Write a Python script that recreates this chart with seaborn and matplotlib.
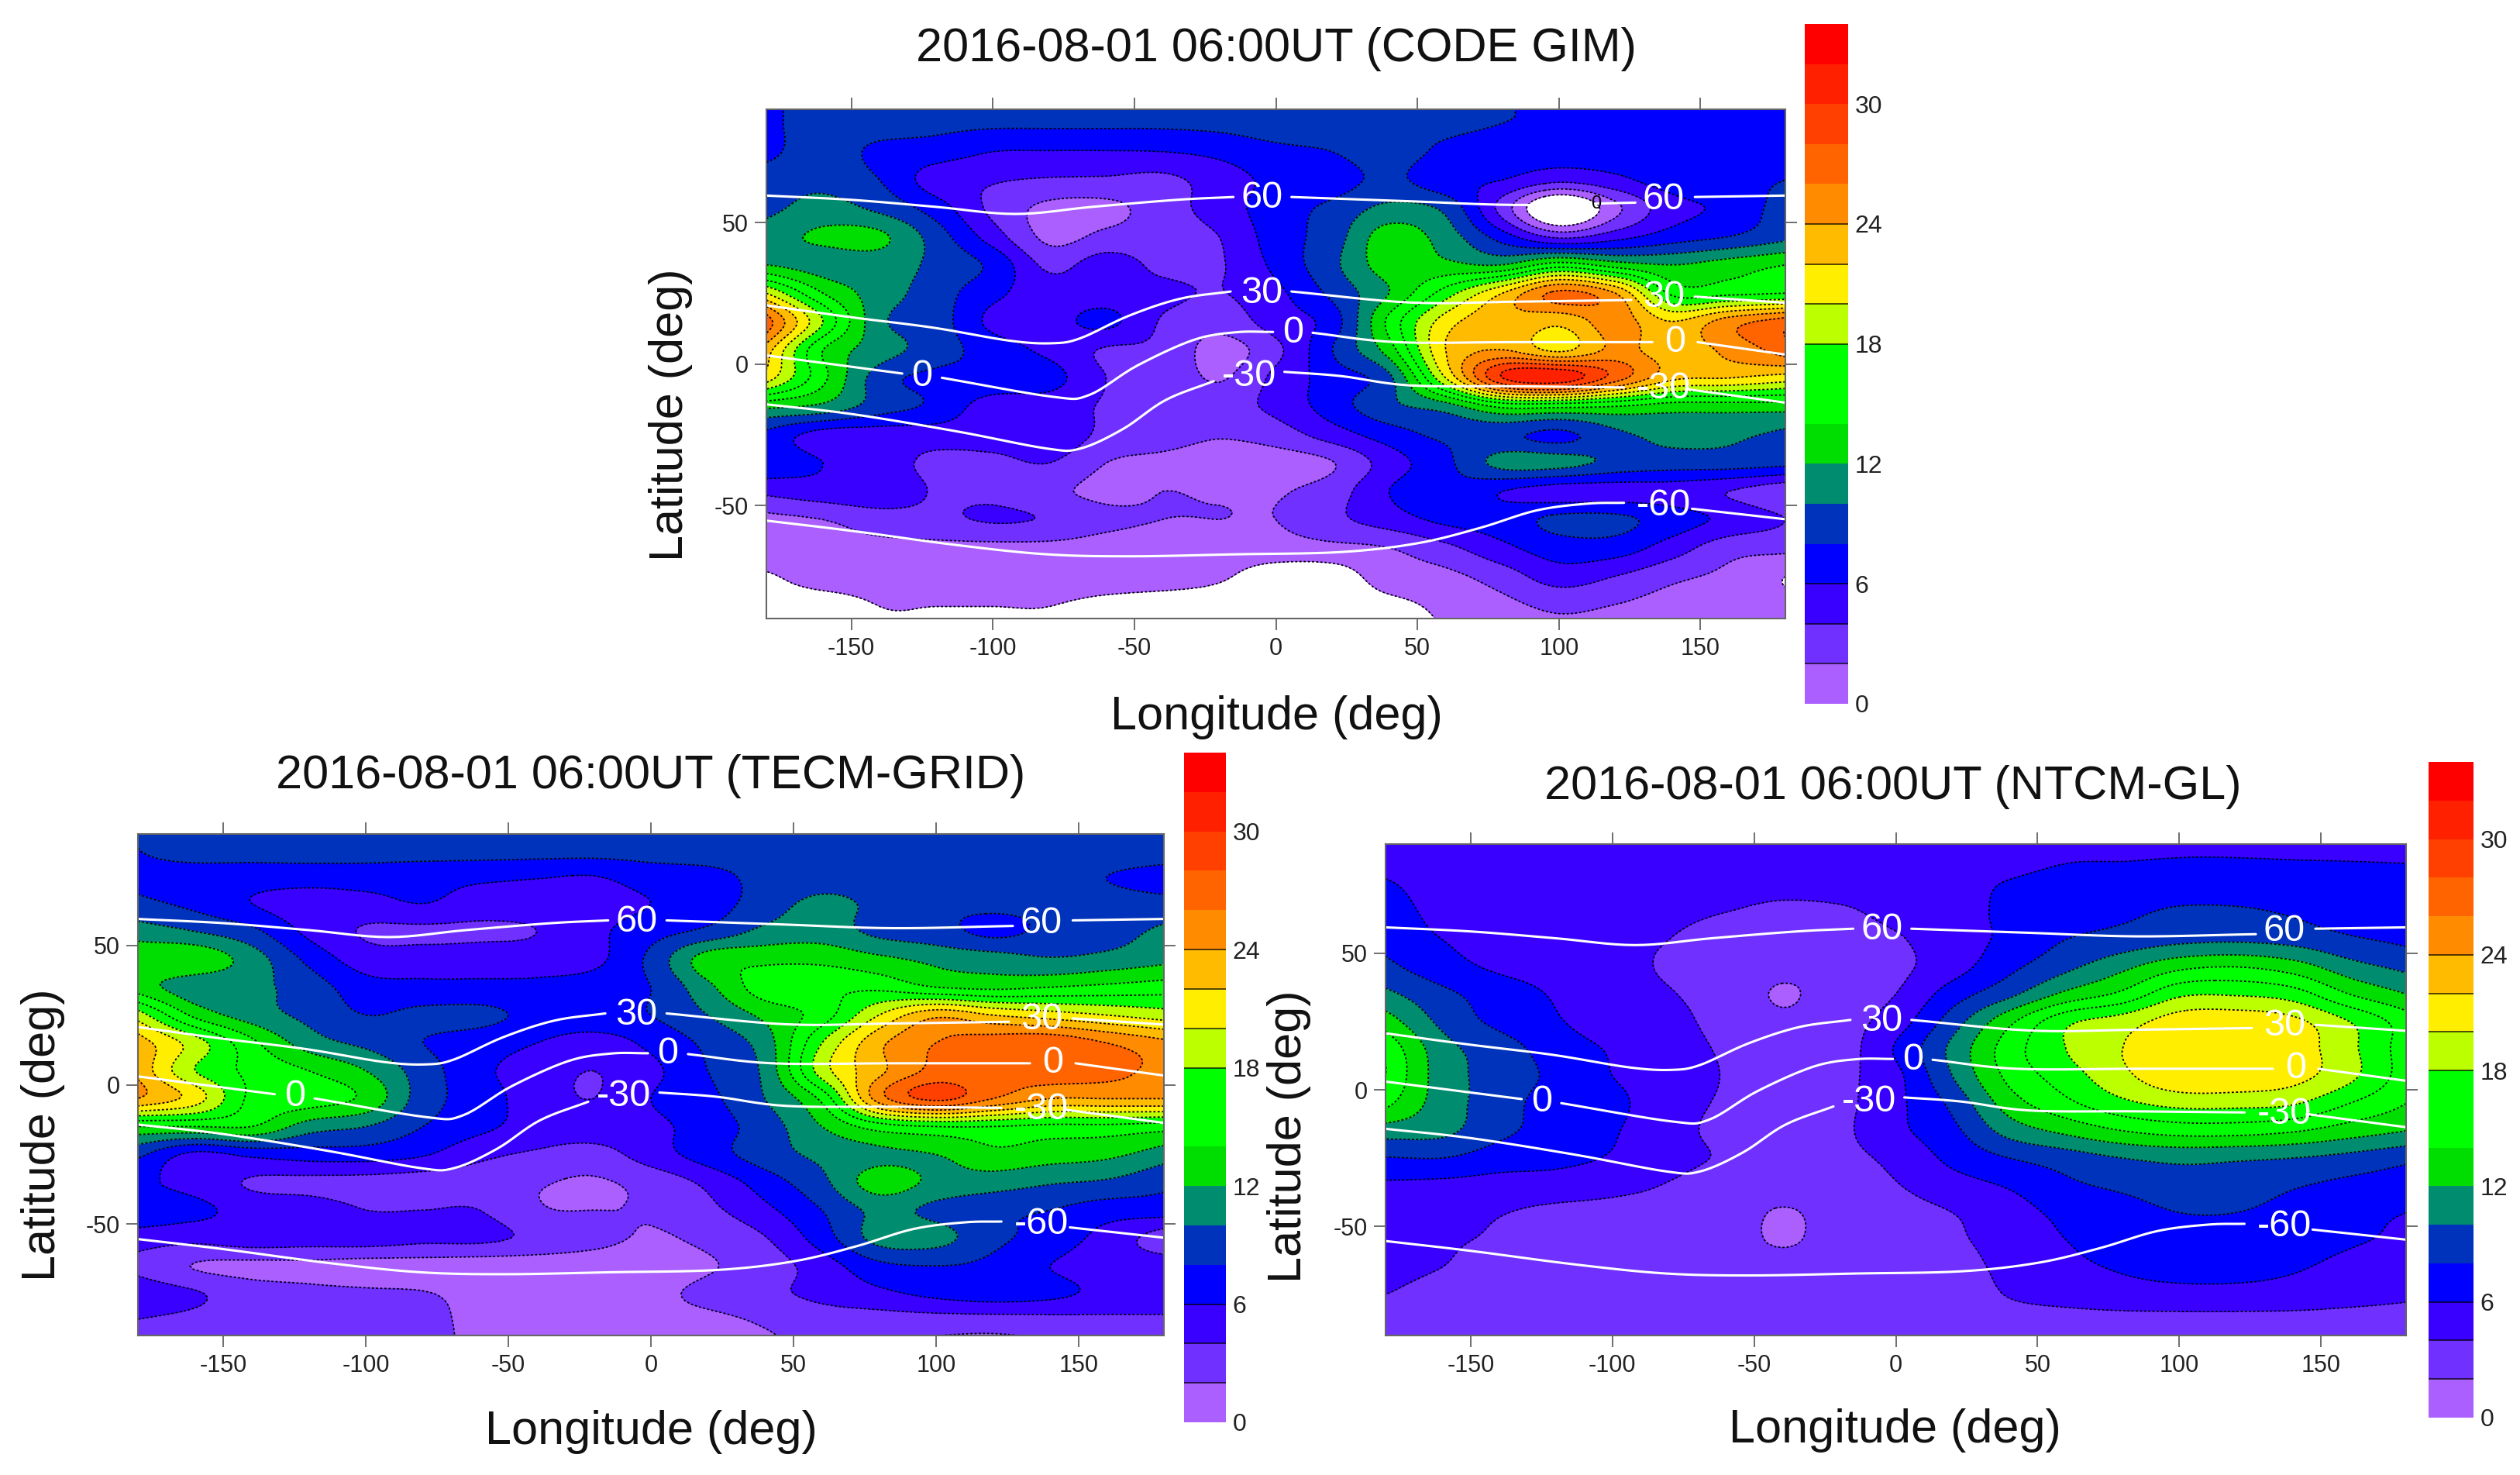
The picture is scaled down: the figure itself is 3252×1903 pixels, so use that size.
import matplotlib
matplotlib.use('Agg')
import matplotlib.pyplot as plt
import numpy as np
import seaborn as sns
from matplotlib.colors import BoundaryNorm, ListedColormap

W, H = 3252, 1903

# grid of the maps
lons = [-180, -160, -140, -120, -100, -80, -60, -40, -20, 0, 20, 40, 60, 80, 100, 120, 140, 160, 180]
lats = [85, 75, 65, 55, 45, 35, 25, 15, 5, -5, -15, -25, -35, -45, -55, -65, -75, -85]

# TEC, one row per latitude
code_gim = [
    [7.5, 9, 9, 8.5, 8.3, 8.3, 8.3, 8.3, 8.5, 9, 9, 9, 8.5, 8, 7.8, 7.8, 7.8, 7.8, 7.8],
    [7.5, 9, 7.5, 7, 6, 5.9, 5.9, 6, 6.5, 7.5, 8, 9, 7.5, 7, 7, 7, 7, 7, 7.5],
    [9, 9.5, 8, 5, 4.2, 3.8, 3.7, 3.5, 5, 6.5, 7, 8.5, 6.5, 6, 4.5, 5.5, 7, 7.5, 8],
    [9.5, 10.7, 9.5, 7, 3.5, 1.5, 1.5, 3, 5, 7, 8.5, 10.5, 9.5, 3.2, -3, 1.5, 5.2, 6.5, 9],
    [11, 12.4, 12.4, 9, 5, 1.5, 2.5, 3, 4, 7, 9, 13, 11, 7, 3.5, 5.2, 7, 8, 9.5],
    [12, 11, 11, 9.5, 7.5, 3.5, 5, 3.5, 3.8, 6.5, 9.5, 13, 12.5, 12, 15, 13, 12, 13, 14],
    [20, 14, 11, 9, 6.5, 5, 5, 4.5, 3.9, 5.5, 8.5, 12, 17, 22, 26.5, 24, 15.5, 15.5, 16],
    [27, 18, 10.5, 9, 5.5, 5.3, 6.5, 3.8, 2.8, 5, 7, 14.5, 21, 23.5, 22.5, 25, 22, 25, 27],
    [23, 14, 11, 9, 7, 5.5, 3.8, 3.6, 1.2, 3.5, 8, 13, 22, 24, 21.5, 24.5, 23, 24.5, 27],
    [21, 14.5, 9, 7.5, 7.5, 6.8, 4, 3.5, 1.8, 4.5, 7, 9.5, 20, 30, 31.5, 27, 22.5, 22, 21],
    [12.5, 11.5, 9, 7.5, 5, 5, 3.8, 3.5, 3.3, 4.5, 7, 9.5, 11, 14.5, 14.5, 14, 13, 13, 13],
    [7.5, 5.2, 5, 5, 5, 5.5, 3.5, 3, 2.2, 3, 5, 7, 8.5, 8.5, 7.5, 9.5, 10.7, 10.5, 9.5],
    [7.5, 6, 5, 3.5, 3.5, 4, 2, 1.5, 1, 1, 1.9, 5, 7.5, 10.7, 10.7, 9.5, 9, 9, 8.5],
    [4.5, 5.2, 5.4, 3.8, 3.5, 2.5, 1.5, 2, 1.8, 1.8, 3, 6, 7.5, 6, 5, 5, 5, 4, 2.5],
    [1.5, 2, 3, 3.5, 4.2, 3.8, 2.5, 2, 2, 2, 3.5, 5, 6.5, 7, 8.5, 8.5, 7, 5.5, 4],
    [1.9, 1.5, 1.5, 1.5, 1.5, 1.5, 1.2, 1.2, 1.2, 1.2, 1.5, 2, 3.5, 5.5, 7, 7, 5, 2.8, 2.5],
    [-0.3, 1, 1, 1, 1, 1, 1, 1, 0.3, -1, -1, 1, 1.5, 3, 5, 4, 2.5, 1.5, 0],
    [-1, -1, 0.05, 0.05, 0.05, 0.05, -0.5, -1, -1, -1, -1, -0.5, 0.5, 1.5, 2.5, 2, 1.2, 0.8, 0.5],
]
tecm_grid = [
    [8, 9, 9, 9, 9, 9, 9, 9, 9, 9, 9, 9, 9, 9, 9, 9, 9, 9, 9],
    [7.5, 7.2, 7, 7, 7, 6.8, 6.5, 6.2, 6, 7, 7.5, 8.5, 9, 9, 9, 9, 8.5, 8, 7.5],
    [8.5, 7.5, 6, 5, 5.3, 6, 5, 5, 5.2, 6, 7, 9, 10.5, 9.5, 8.5, 8.5, 8.5, 8.5, 8.5],
    [11, 10, 8.5, 5.5, 3.8, 3.6, 3.7, 4, 5.5, 7.2, 8.5, 10.5, 11, 9.5, 8.8, 7.5, 8.5, 9, 10.5],
    [13.5, 13.5, 11, 7.5, 5, 5, 5, 5, 5.5, 8.5, 13, 13.5, 13.5, 12.5, 11.5, 11, 10.2, 10.7, 11.5],
    [13, 10.8, 10.5, 9, 6.8, 6.5, 6.5, 6.5, 7, 8, 11.5, 15, 15.5, 15.5, 14, 13.5, 14, 14.5, 15],
    [19, 13.5, 11, 9.5, 8, 8.5, 8.5, 7.5, 7.5, 8, 10, 12.5, 15, 20, 23.5, 22, 21, 20, 19],
    [23, 19, 14.5, 11, 9.5, 8, 7, 6, 5, 6.5, 8.5, 11, 18, 23.5, 26, 27, 27.5, 26, 24.5],
    [23.5, 18, 15.5, 14, 12, 9, 6.5, 5, 4, 5.5, 8, 10.5, 19, 23.5, 26.5, 26, 27, 26.5, 25.5],
    [24, 21, 15.5, 15, 13.5, 9, 7, 5, 4, 6, 7.5, 10, 14.5, 25, 28.5, 26, 24, 24, 24],
    [14, 14, 14, 11, 10, 8, 6.5, 5.2, 5, 5.5, 7, 9, 12, 15, 16, 16, 15.5, 15.5, 15],
    [8.5, 5.5, 6.5, 7, 7, 6.2, 4.5, 3.7, 3.2, 5, 7, 9, 10.5, 11.5, 12, 13.5, 13, 12.5, 11],
    [6.5, 5.2, 3.8, 3.5, 3.3, 3, 3, 2.2, 1.8, 2.7, 4.5, 7, 9.5, 13, 11.5, 11, 10.2, 9.7, 8.5],
    [7.5, 6.5, 5.3, 5, 4, 4, 4, 2.2, 2, 2.2, 3.5, 5.5, 8, 10.5, 9.5, 8.5, 8, 7, 7],
    [5, 4.6, 5.2, 5, 5, 4.5, 4.5, 3.5, 2.6, 1.8, 2.5, 3.9, 7, 10.7, 10.7, 8.5, 7.2, 5.2, 3],
    [3.5, 1.9, 1.5, 1.5, 1.2, 1.2, 1, 1, 1, 1, 1.8, 3, 5, 7.5, 8, 7.5, 6, 5, 5],
    [5.2, 4.2, 3, 2.5, 2.3, 2.1, 1.5, 1, 1, 1.5, 2.5, 3.5, 4.5, 5.5, 6.5, 7, 6.5, 5.5, 5.5],
    [3.9, 3.5, 3, 3, 3, 2.6, 1.5, 1.5, 1.5, 1.5, 1.5, 2.2, 3, 3, 3, 3, 3.2, 3.5, 3.5],
]
ntcm_gl = [
    [5, 5, 5, 5, 5, 5, 5, 5, 5, 5, 5, 5, 5.8, 5.9, 6, 6, 5.95, 5.9, 5.8],
    [6.3, 5, 4.8, 4.8, 4.8, 4.8, 4.7, 4.5, 4.7, 4.9, 5.2, 6.2, 7, 7, 7, 7, 7, 7, 7],
    [7.2, 5.3, 4.9, 4.7, 4.5, 4.4, 4, 3.6, 3.7, 4.5, 5, 6.5, 7, 7.6, 8.3, 8.3, 7.8, 7, 6.6],
    [7.5, 6, 5.2, 4.7, 4.3, 4, 3.2, 3, 3, 3.8, 5, 6.5, 8, 8.8, 9.5, 9.7, 9.3, 8.3, 7.6],
    [8.5, 6.8, 5.7, 5.2, 4.5, 3.8, 3, 2.5, 2.5, 3.5, 5.2, 7.5, 9.5, 11.5, 13.5, 14, 13, 10.8, 9.5],
    [10.5, 8.5, 7, 5.8, 4.7, 4.1, 3.3, 1.8, 3, 4, 7, 9.5, 12.5, 14.5, 17.6, 17.8, 17, 14, 12],
    [13, 9.5, 7.5, 6.2, 5, 4.4, 3.5, 2.4, 3.2, 5, 9, 13.5, 17.5, 19, 21, 21.2, 20.5, 18, 15],
    [15.5, 10.8, 9, 7, 5.8, 4.7, 3.8, 3.2, 3.1, 6.2, 10.5, 15, 18, 20, 21.5, 21.5, 21, 18.5, 15],
    [16, 11, 9.3, 7.5, 6, 5, 3.9, 3.2, 3.5, 5.5, 10, 14.5, 17, 19.5, 21.5, 21.5, 20.7, 18.5, 15],
    [14.5, 11, 9, 7, 6.5, 4.7, 3.8, 3.2, 3.5, 5.5, 8.5, 13, 15.5, 17.5, 18.6, 18.6, 18.2, 16, 14],
    [11, 10.5, 8.5, 7.2, 6.2, 4.6, 3.6, 3.2, 3.6, 5.5, 7.5, 10.8, 12.5, 14, 14.8, 14.8, 14.2, 13, 12],
    [7.9, 8, 7, 6.6, 5.8, 4.6, 3.8, 3.2, 3.5, 4.5, 6.5, 8, 9, 10, 10.5, 10.3, 10, 9.4, 8.5],
    [5.7, 5.5, 5.2, 5, 4.5, 3.9, 3.2, 3, 3.2, 3.9, 5.2, 6.2, 7.6, 8.4, 9.2, 9.1, 8.2, 7.5, 7],
    [5, 4.7, 4.1, 3.6, 3.5, 3.4, 3.1, 1.8, 2.9, 3.3, 4, 5.2, 6.5, 7.2, 8, 8, 7.3, 6.5, 6],
    [4.5, 4.2, 3.8, 3.3, 3.2, 3.1, 3.1, 1.7, 3, 3.1, 3.7, 4.8, 6, 6.8, 7.2, 7.2, 6.8, 6.2, 5.7],
    [4.4, 4, 3.5, 3.2, 3, 3, 3, 3, 3, 3, 3.3, 4.5, 5.5, 6.2, 6.6, 6.6, 6.2, 5.5, 5.1],
    [4, 3.5, 3.2, 3, 3, 3, 3, 3, 3, 3, 3, 4.1, 4.7, 5.2, 5.4, 5.4, 5.2, 4.7, 4.3],
    [3.2, 3.2, 3.2, 3.2, 3.2, 3, 3, 3, 3, 3, 3, 3.2, 3.2, 3.2, 3.2, 3.2, 3.2, 3.2, 3.2],
]

# magnetic latitude lines, pieces between the labels (lon, lat)
mag_lines = [
    [[(-180, 59.5), (-150, 58), (-120, 55.5), (-92, 53), (-65, 55.5), (-35, 58), (-15, 59)],
     [(5.5, 59), (47, 57.5), (85, 56.2), (127, 57)],
     [(148, 59), (180, 59.5)]],
    [[(-180, 20.7), (-150, 16.5), (-121, 12.8), (-94, 8.2), (-79, 7.3), (-69, 9.1), (-52, 17), (-34, 23), (-16, 25.6)],
     [(5.5, 25.6), (47.5, 21.7), (85, 22), (125.6, 22.6)],
     [(148, 23.8), (180, 21.6)]],
    [[(-180, 3), (-132, -3.4)],
     [(-118, -4.9), (-79, -11.6), (-66, -11), (-49, -0.6), (-29, 8.5), (-14, 11.2), (-1, 11.3)],
     [(13, 11), (42.6, 7.7), (85, 7.7), (133, 7.7)],
     [(149, 7.7), (180, 3.3)]],
    [[(-180, -14.3), (-150, -17.7), (-113, -23.8), (-81, -29.9), (-69, -29.9), (-54, -23), (-39, -12.8), (-22, -6.1)],
     [(3, -2.8), (23, -4.3), (47.5, -7.6), (85, -7.9), (123, -8.3)],
     [(145, -8.9), (180, -13.7)]],
    [[(-180, -55.4), (-150, -59), (-113, -64), (-81, -67.3), (-51, -68), (-14, -67.3), (23, -66.5), (50, -63.4), (72, -58), (92, -51.8), (110, -49.4), (123, -49.1)],
     [(147, -51.2), (180, -54.9)]],
]
mag_labels = [
    ('60', -5, 58.5), ('60', 137, 58), ('30', -5, 25), ('30', 137, 23.5), ('0', -125, -4.3),
    ('0', 6, 11), ('0', 141, 7.7), ('-30', -9.5, -4.3), ('-30', 137, -8.9), ('-60', 137, -50),
]

band_colors = ['#ab5fff', '#7030ff', '#3a00ff', '#0000ff', '#0033bb', '#008c6e', '#00dd00', '#00ff00', '#00ff00',
               '#bbff00', '#ffee00', '#ffbb00', '#ff8c00', '#ff6400', '#ff4000', '#ff2000', '#ff0000']
levels = list(range(0, 36, 2))
cbar_ticks = [0, 6, 12, 18, 24, 30]
lon_ticks = [-150, -100, -50, 0, 50, 100, 150]
lat_ticks = [-50, 0, 50]

sns.set_style('white')
plt.rcParams['font.family'] = ['Liberation Sans', 'DejaVu Sans']
plt.rcParams['axes.unicode_minus'] = False
cmap = ListedColormap(sns.color_palette(band_colors, len(band_colors)))
norm = BoundaryNorm(levels, cmap.N)


def refine(z, n=8):
    # Catmull-Rom along the first axis, only to round the contour corners
    z = np.concatenate([2 * z[:1] - z[1:2], z, 2 * z[-1:] - z[-2:-1]], axis=0)
    t = np.arange(n) / n
    t = t.reshape(-1, *([1] * (z.ndim - 1)))
    out = []
    for i in range(1, len(z) - 2):
        p0, p1, p2, p3 = z[i - 1], z[i], z[i + 1], z[i + 2]
        out.append(0.5 * (2 * p1 + (p2 - p0) * t + (2 * p0 - 5 * p1 + 4 * p2 - p3) * t ** 2
                          + (3 * p1 - p0 - 3 * p2 + p3) * t ** 3))
    out.append(z[-2:-1])
    return np.concatenate(out, axis=0)


def box(x0, y0, x1, y1):
    return [x0 / W, 1 - y1 / H, (x1 - x0) / W, (y1 - y0) / H]


def draw_map(fig, pos, values):
    ax = fig.add_axes(box(*pos))
    z = np.array(values, dtype=float)
    # one extra row past each pole so the fill reaches the frame
    z = np.vstack([z[:1], z, z[-1:] + 0.5 * (z[-1:] - z[-2:-1])])
    lat_edge = [95] + lats + [-95]
    zz = refine(refine(z).T).T
    xx = refine(np.array(lons, dtype=float))
    yy = refine(np.array(lat_edge, dtype=float))
    ax.contourf(xx, yy, zz, levels=levels, cmap=cmap, norm=norm)
    ax.contour(xx, yy, zz, levels=levels, colors='black', linewidths=1.3, linestyles=[(0, (1.5, 1.5))])
    for pieces in mag_lines:
        for piece in pieces:
            px, py = zip(*piece)
            xs = refine(np.array(px, dtype=float)) if len(px) > 2 else np.array(px)
            ys = refine(np.array(py, dtype=float)) if len(py) > 2 else np.array(py)
            sns.lineplot(x=xs, y=ys, ax=ax, color='white', linewidth=2.2, sort=False, errorbar=None)
    for txt, lx, ly in mag_labels:
        ax.text(lx, ly, txt, color='white', fontsize=35, ha='center', va='center')
    ax.set_xlim(-180, 180)
    ax.set_ylim(-90, 90)
    ax.set_xticks(lon_ticks)
    ax.set_yticks(lat_ticks)
    ax.tick_params(axis='both', which='both', length=11, width=1.2, color='#555555', labelsize=22, pad=6,
                   top=True, right=True, bottom=True, left=True, labelcolor='#222222')
    for s in ax.spines.values():
        s.set_color('#666666')
        s.set_linewidth(1.5)
    return ax


def draw_cbar(fig, pos):
    ax = fig.add_axes(box(*pos))
    ax.pcolormesh([0, 1], levels, np.arange(len(band_colors)).reshape(-1, 1) * 2 + 1, cmap=cmap, norm=norm)
    ax.hlines([2, 4, 6, 18, 20, 22, 24], 0, 1, colors='black', linewidth=1.2, alpha=0.8)
    ax.set_xticks([])
    ax.set_yticks(cbar_ticks)
    ax.yaxis.tick_right()
    ax.tick_params(axis='y', length=0, labelsize=23, pad=6, labelcolor='#222222')
    ax.set_ylim(0, 34)
    for s in ax.spines.values():
        s.set_visible(False)


def label(fig, x, y, txt, size=44, rot=0):
    fig.text(x / W, 1 - y / H, txt, fontsize=size, rotation=rot, ha='center', va='center', color='#111111')


fig = plt.figure(figsize=(W / 100, H / 100), dpi=100)

ax1 = draw_map(fig, (989, 141, 2304, 798), code_gim)
ax1.text(113, 56.5, '0', color='black', fontsize=17, ha='center', va='center')
draw_cbar(fig, (2329, 31, 2385, 908))
label(fig, 1647, 64, '2016-08-01 06:00UT (CODE GIM)')
label(fig, 1647, 925, 'Longitude (deg)')
label(fig, 865, 535, 'Latitude (deg)', rot=90)

draw_map(fig, (178, 1076, 1502, 1723), tecm_grid)
draw_cbar(fig, (1528, 971, 1582, 1835))
label(fig, 840, 1002, '2016-08-01 06:00UT (TECM-GRID)')
label(fig, 840, 1848, 'Longitude (deg)')
label(fig, 56, 1464, 'Latitude (deg)', rot=90)

draw_map(fig, (1788, 1089, 3105, 1723), ntcm_gl)
draw_cbar(fig, (3134, 983, 3192, 1829))
label(fig, 2443, 1016, '2016-08-01 06:00UT (NTCM-GL)')
label(fig, 2445, 1846, 'Longitude (deg)')
label(fig, 1663, 1466, 'Latitude (deg)', rot=90)

fig.savefig('out.png', dpi=100)
